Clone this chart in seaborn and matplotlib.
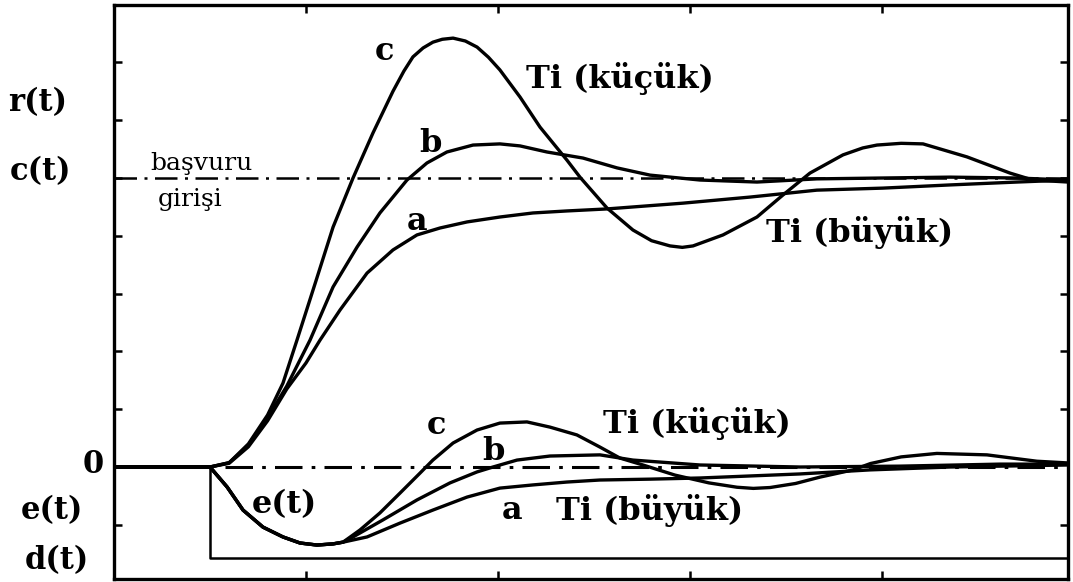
import matplotlib
matplotlib.use("Agg")
import matplotlib.pyplot as plt
import pandas as pd
import seaborn as sns

# --- data (time, level) ---
t_c = [0, 0.5, 0.6, 0.7, 0.8, 0.88, 0.953, 1.05, 1.141, 1.245, 1.349, 1.453, 1.51, 1.557, 1.61,
       1.661, 1.71, 1.766, 1.83, 1.891, 1.95, 2.010, 2.115, 2.219, 2.359, 2.427, 2.568, 2.703,
       2.80, 2.896, 2.96, 3.016, 3.172, 3.349, 3.484, 3.625, 3.797, 3.90, 3.974, 4.10, 4.214,
       4.443, 4.667, 4.786, 4.97]
y_c = [0, 0, 0.015, 0.08, 0.18, 0.29, 0.439, 0.64, 0.830, 1.0, 1.156, 1.30, 1.37, 1.419, 1.45,
       1.470, 1.480, 1.484, 1.474, 1.453, 1.418, 1.374, 1.280, 1.176, 1.062, 1.003, 0.896, 0.820,
       0.783, 0.765, 0.760, 0.765, 0.803, 0.865, 0.941, 1.017, 1.080, 1.104, 1.114, 1.120, 1.118,
       1.073, 1.017, 0.993, 0.986]

t_b = [0, 0.5, 0.6, 0.7, 0.8, 0.9, 1.021, 1.141, 1.266, 1.385, 1.526, 1.630, 1.734, 1.870,
       2.010, 2.115, 2.255, 2.443, 2.620, 2.792, 3.052, 3.349, 3.661, 4.005, 4.354, 4.703, 4.97]
y_b = [0, 0, 0.015, 0.075, 0.17, 0.28, 0.439, 0.623, 0.761, 0.879, 0.993, 1.052, 1.090, 1.114,
       1.118, 1.111, 1.090, 1.069, 1.035, 1.010, 0.993, 0.986, 0.997, 1.0, 1.003, 1.0, 0.993]

t_a = [0, 0.5, 0.6, 0.7, 0.8, 0.9, 1.0, 1.073, 1.177, 1.318, 1.453, 1.578, 1.698, 1.839,
       2.010, 2.182, 2.359, 2.568, 2.964, 3.313, 3.661, 4.005, 4.354, 4.703, 4.97]
y_a = [0, 0, 0.013, 0.07, 0.16, 0.27, 0.36, 0.439, 0.543, 0.671, 0.751, 0.803, 0.827, 0.848,
       0.865, 0.879, 0.886, 0.893, 0.913, 0.934, 0.958, 0.965, 0.976, 0.986, 0.993]

# error responses (shared start, then split)
t_e0 = [0, 0.5, 0.589, 0.672, 0.776, 0.880, 0.969, 1.057, 1.141, 1.193]
e_e0 = [0, 0, -0.069, -0.149, -0.208, -0.242, -0.263, -0.270, -0.266, -0.260]

t_ec = [1.281, 1.385, 1.490, 1.594, 1.661, 1.766, 1.891, 2.010, 2.151, 2.271, 2.411, 2.531,
        2.635, 2.755, 2.922, 3.099, 3.245, 3.33, 3.417, 3.55, 3.677, 3.849, 3.94, 4.10, 4.286,
        4.547, 4.807, 4.97]
e_ec = [-0.218, -0.159, -0.090, -0.021, 0.024, 0.083, 0.128, 0.152, 0.156, 0.138, 0.111, 0.069,
        0.031, 0.007, -0.028, -0.055, -0.070, -0.074, -0.071, -0.057, -0.035, -0.010, 0.012,
        0.035, 0.047, 0.042, 0.020, 0.014]

t_eb = [1.245, 1.401, 1.578, 1.75, 1.891, 1.974, 2.099, 2.271, 2.531, 2.703, 3.052, 3.573,
        4.094, 4.615, 4.97]
e_eb = [-0.242, -0.183, -0.114, -0.055, -0.017, 0, 0.024, 0.038, 0.042, 0.024, 0.007, 0,
        0.003, 0.01, 0.01]

t_ea = [1.318, 1.490, 1.661, 1.839, 2.010, 2.182, 2.359, 2.531, 2.792, 3.052, 3.573, 3.938,
        4.354, 4.97]
e_ea = [-0.242, -0.194, -0.149, -0.104, -0.073, -0.062, -0.052, -0.045, -0.042, -0.038,
        -0.024, -0.010, 0, 0.007]

t_d = [0.5, 0.5, 4.97]
y_d = [0, -0.315, -0.315]

ref_level = 1.0
step_time = 0.5
t_end = 4.97

sns.set_theme(style="white")
plt.rcParams["font.family"] = ["DejaVu Serif"]

fig = plt.figure(figsize=(10.73, 5.82), dpi=100)
ax = fig.add_axes([114 / 1073, 3 / 582, 954 / 1073, 574 / 582])

curves = [
    (t_c, y_c), (t_b, y_b), (t_a, y_a),
    (t_e0 + t_ec, e_e0 + e_ec), (t_e0 + t_eb, e_e0 + e_eb), (t_e0 + t_ea, e_e0 + e_ea),
]
for tt, yy in curves:
    df = pd.DataFrame({"t": tt, "y": yy})
    sns.lineplot(data=df, x="t", y="y", ax=ax, color="black", lw=2.4,
                 sort=False, estimator=None)

sns.lineplot(x=t_d, y=y_d, ax=ax, color="black", lw=1.8, sort=False, estimator=None)

dashdot = (0, (9, 3, 1.2, 3))
ax.plot([0, t_end], [ref_level, ref_level], color="black", lw=1.8, linestyle=dashdot)
ax.plot([step_time + 0.08, t_end], [0, 0], color="black", lw=2.2, linestyle=dashdot)

ax.set_xlim(0, 4.969)
ax.set_ylim(-0.3875, 1.5986)
ax.set_xticks([1, 2, 3, 4])
ax.set_yticks([-0.2, 0.2, 0.4, 0.6, 0.8, 1.0, 1.2, 1.4])
ax.tick_params(direction="in", length=6, width=1.8, top=True, right=True, bottom=True, left=True,
               labelbottom=False, labelleft=False, color="black")
ax.set_xlabel("")
ax.set_ylabel("")
for s in ax.spines.values():
    s.set_color("black")
    s.set_linewidth(2.4)

side = dict(fontsize=22, fontweight="bold", ha="center", va="center", color="black",
            clip_on=False)
bold = dict(fontsize=23, fontweight="bold", ha="center", va="center", color="black")
# left side labels
ax.text(-0.396, 1.26, "r(t)", **side)
ax.text(-0.385, 1.021, "c(t)", **side)
ax.text(-0.109, 0.007, "0", **side)
ax.text(-0.323, -0.149, "e(t)", **side)
ax.text(-0.297, -0.322, "d(t)", **side)

ax.text(0.455, 1.05, "başvuru", fontsize=18, ha="center", va="center", color="black")
ax.text(0.396, 0.925, "girişi", fontsize=18, ha="center", va="center", color="black")

ax.text(1.411, 1.436, "c", **bold)
ax.text(2.635, 1.346, "Ti (küçük)", **bold)
ax.text(1.646, 1.121, "b", **bold)
ax.text(1.578, 0.848, "a", **bold)
ax.text(3.885, 0.810, "Ti (büyük)", **bold)

ax.text(1.682, 0.145, "c", **bold)
ax.text(3.036, 0.152, "Ti (küçük)", **bold)
ax.text(1.974, 0.052, "b", **bold)
ax.text(2.073, -0.149, "a", **bold)
ax.text(2.792, -0.149, "Ti (büyük)", **bold)
ax.text(0.885, -0.131, "e(t)", **bold)

fig.savefig("out.png", dpi=100)
